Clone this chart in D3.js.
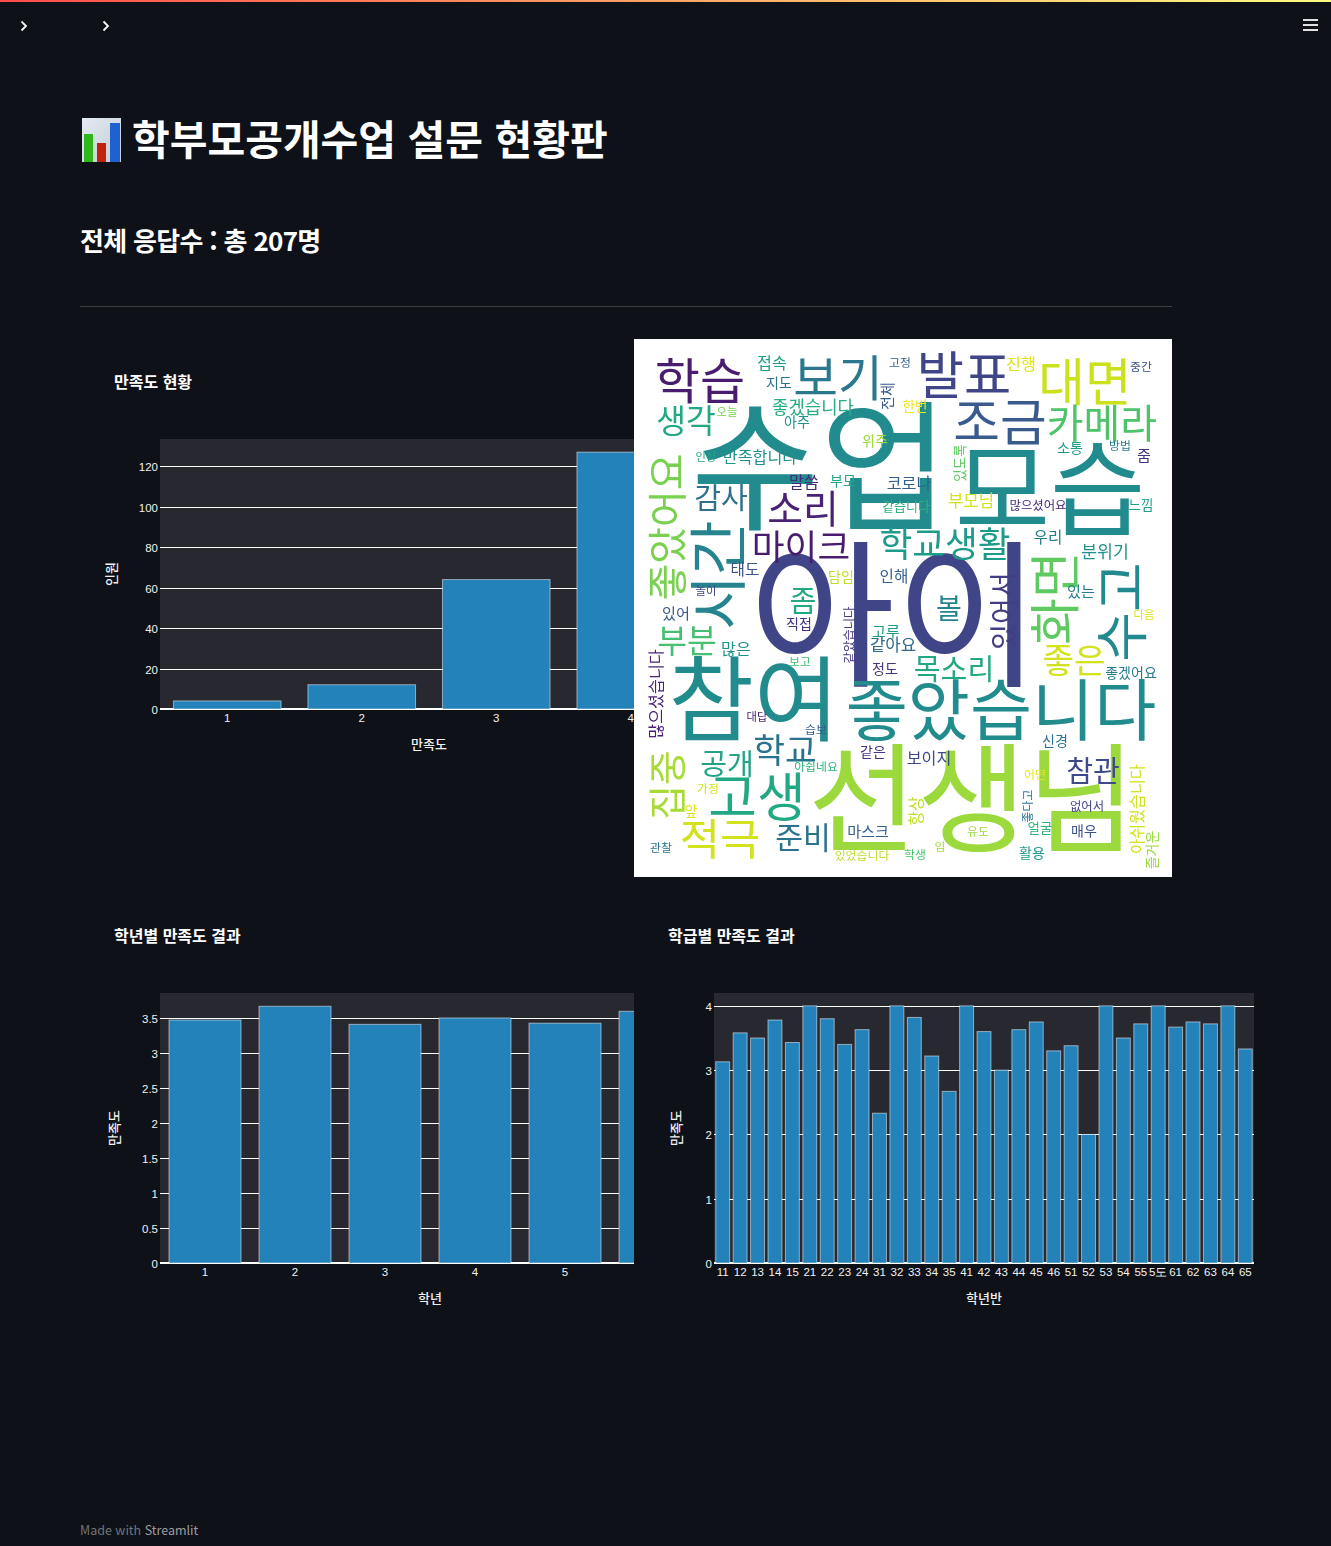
<!DOCTYPE html>
<html lang="ko">
<head>
<meta charset="utf-8">
<title>학부모공개수업 설문 현황판</title>
<script src="https://cdn.jsdelivr.net/npm/d3@7"></script>
<style>
  html, body { margin: 0; padding: 0; background: #0e1117; }
  svg { display: block; font-family: "Noto Sans CJK KR", "Noto Sans", sans-serif; }
  .tick text { fill: #f2f2f2; font-size: 11.5px; }
  .ytick line { stroke: #fff; stroke-width: 1; }
  .axis-title { fill: #f2f2f2; font-size: 13px; font-weight: 500; text-anchor: middle; }
  .chart-title { fill: #fff; font-size: 16px; font-weight: 700; }
</style>
</head>
<body>
<svg id="page" width="1331" height="1546"></svg>
<script>
// satisfaction count
var satisLevels = ["1", "2", "3", "4"];
var satisCounts = [4, 12, 64, 127];
var satisTicks = [0, 20, 40, 60, 80, 100, 120];

// satisfaction per grade
var grades = ["1", "2", "3", "4", "5", "6"];
var gradeScores = [3.476, 3.672, 3.414, 3.505, 3.43, 3.6];
var gradeTicks = [0, 0.5, 1, 1.5, 2, 2.5, 3, 3.5];

// satisfaction per class
var classes = ["11", "12", "13", "14", "15", "21", "22", "23", "24", "31", "32", "33", "34", "35", "41", "42",
               "43", "44", "45", "46", "51", "52", "53", "54", "55", "5도", "61", "62", "63", "64", "65"];
var classScores = [3.13, 3.58, 3.5, 3.78, 3.43, 4, 3.8, 3.4, 3.63, 2.33, 4, 3.82, 3.22, 2.67, 4, 3.6,
                   3, 3.63, 3.75, 3.3, 3.38, 2, 4, 3.5, 3.72, 4, 3.67, 3.75, 3.72, 4, 3.33];
var classTicks = [0, 1, 2, 3, 4];

// word cloud. x, y are in the cloud's own 538 square
var cloudWords = ["수업", "아이", "선생님", "참여", "모습", "좋았습니다", "시간", "수고", "화면", "고생", "학습",
  "보기", "발표", "대면", "조금", "카메라", "좋았어요", "적극", "집중", "소리", "마이크", "학교생활",
  "부분", "좋은", "학교", "생각", "감사", "준비", "목소리", "공개", "참관", "좀", "볼",
  "있어서", "좋겠습니다", "만족합니다", "분위기", "보이지", "접속", "진행", "말씀", "코로나", "부모님", "많은",
  "같아요", "많으셨습니다", "아쉬웠습니다", "태도", "인해", "우리", "항상", "전체", "있어", "고루", "있는",
  "마스크", "줌", "지도", "아주", "위주", "부모", "담임", "직접", "정도", "좋겠어요", "같은",
  "신경", "앞", "소통", "매우", "활용", "즐거운", "한번", "얼굴", "느낌", "있도록", "같습니다",
  "없어서", "같았습니다", "많으셨어요", "고정", "중간", "방법", "보고", "습보", "아쉽네요", "가정", "관찰",
  "있었습니다", "어떤", "좋다고", "유도", "임", "학생", "오늘", "인상", "놀이", "대답", "다음"];
var cloudX = [186, 261, 338, 120, 416, 367, 85, 489, 422, 123, 66,
  204, 330, 451, 366, 468, 34, 86, 33, 169, 167, 311,
  53, 440, 151, 52, 87, 169, 320, 93, 459, 169, 315,
  370, 179, 126, 471, 295, 138, 387, 170, 275, 337, 102,
  259, 22, 503, 111, 260, 414, 282, 254, 42, 252, 447,
  234, 510, 145, 163, 241, 209, 207, 165, 251, 497, 239,
  421, 57, 436, 450, 398, 518, 281, 406, 507, 326, 272,
  453, 216, 404, 266, 507, 486, 166, 182, 182, 74, 27,
  228, 401, 394, 344, 306, 281, 93, 72, 72, 123, 510];
var cloudY = [129, 278, 461, 362, 152, 372, 236, 273, 259, 459, 42,
  39, 37, 44, 84, 85, 188, 500, 446, 170, 208, 205,
  302, 322, 412, 82, 159, 499, 330, 425, 432, 262, 270,
  272, 69, 118, 213, 419, 24, 25, 143, 144, 162, 310,
  306, 355, 470, 230, 237, 198, 472, 57, 275, 293, 253,
  493, 117, 44, 83, 102, 142, 238, 285, 330, 334, 413,
  402, 472, 109, 492, 514, 511, 67, 489, 166, 124, 167,
  468, 296, 167, 24, 28, 107, 323, 391, 428, 450, 509,
  517, 436, 467, 493, 508, 516, 73, 118, 252, 378, 276];
var cloudFreq = [130, 147, 110, 86, 96, 62.5, 55, 50, 47, 49, 45.5,
  45, 47.5, 47, 47, 37, 37, 40.5, 35, 36, 33, 33,
  30, 32, 32, 30, 27, 28, 27, 27, 27, 27, 26,
  26, 16.5, 15, 16, 15, 15, 15, 15, 15, 15.5, 15,
  15.5, 15, 15, 14.5, 14.5, 14.5, 14.5, 14, 14, 14, 14,
  14, 14, 13, 13, 13, 13, 13, 13, 13, 13, 13,
  13, 13, 13, 13, 13, 13, 12.5, 12.5, 12.5, 12.5, 12,
  11.5, 11.5, 11.5, 11, 11, 11, 11, 11, 11, 11, 11,
  11, 11, 11, 11, 11, 11, 10.5, 10.5, 10.5, 10.5, 10.5];
var cloudTone = [.48, .2, .85, .48, .48, .48, .45, .47, .75, .6, .08,
  .4, .2, .92, .28, .72, .8, .93, .87, .1, .08, .55,
  .7, .93, .38, .6, .36, .38, .6, .58, .22, .6, .45,
  .18, .62, .5, .5, .22, .55, .95, .12, .3, .93, .5,
  .33, .1, .93, .25, .3, .42, .9, .28, .28, .55, .42,
  .3, .15, .38, .5, .85, .6, .9, .15, .15, .42, .15,
  .38, .95, .55, .25, .55, .85, .97, .65, .55, .75, .65,
  .2, .15, .12, .3, .25, .42, .7, .3, .65, .93, .38,
  .9, .97, .38, .85, .87, .7, .8, .6, .2, .1, .95];
var cloudVertical = ["시간", "수고", "화면", "좋았어요", "집중", "있어서", "많으셨습니다", "아쉬웠습니다",
  "항상", "전체", "즐거운", "있도록", "같았습니다", "좋다고"];

var svg = d3.select("#page");

// page furniture
var defs = svg.append("defs");
var topGrad = defs.append("linearGradient").attr("id", "topbar");
topGrad.append("stop").attr("offset", "0%").attr("stop-color", "#ff4b4b");
topGrad.append("stop").attr("offset", "100%").attr("stop-color", "#fffd80");
svg.append("rect").attr("width", 1331).attr("height", 2).attr("fill", "url(#topbar)");

[24, 106].forEach(function (x) {
  svg.append("path")
    .attr("d", "M" + (x - 2.5) + " 21.5 L" + (x + 2) + " 26 L" + (x - 2.5) + " 30.5")
    .attr("fill", "none").attr("stroke", "#fafafa").attr("stroke-width", 1.8);
});
[20, 25, 30].forEach(function (y) {
  svg.append("line").attr("x1", 1303).attr("x2", 1318).attr("y1", y).attr("y2", y)
    .attr("stroke", "#fafafa").attr("stroke-width", 1.8);
});

// bar chart emoji
var iconGrad = defs.append("linearGradient").attr("id", "iconbg")
  .attr("x1", 0).attr("y1", 0).attr("x2", 1).attr("y2", 1);
iconGrad.append("stop").attr("offset", "0%").attr("stop-color", "#e3eaf2");
iconGrad.append("stop").attr("offset", "100%").attr("stop-color", "#c3ccd6");
var icon = svg.append("g");
icon.append("rect").attr("x", 82).attr("y", 118).attr("width", 39).attr("height", 44).attr("fill", "url(#iconbg)");
icon.append("rect").attr("x", 84).attr("y", 134).attr("width", 9).attr("height", 28).attr("fill", "#2fb81a");
icon.append("rect").attr("x", 97).attr("y", 143).attr("width", 9).attr("height", 19).attr("fill", "#c0220f");
icon.append("rect").attr("x", 110).attr("y", 123).attr("width", 10).attr("height", 39).attr("fill", "#1d62d0");

svg.append("text").attr("x", 132).attr("y", 155).attr("fill", "#fff")
  .attr("font-size", 41).attr("font-weight", 700).text("학부모공개수업 설문 현황판");
svg.append("text").attr("x", 80).attr("y", 251).attr("fill", "#fff")
  .attr("font-size", 26).attr("font-weight", 700).attr("letter-spacing", "-0.7px").text("전체 응답수 : 총 207명");
svg.append("line").attr("x1", 80).attr("x2", 1172).attr("y1", 306.5).attr("y2", 306.5)
  .attr("stroke", "#fafafa").attr("stroke-opacity", 0.2);
svg.append("text").attr("x", 80).attr("y", 1535).attr("font-size", 12.5).attr("fill", "#71747a")
  .text("Made with ").append("tspan").attr("fill", "#9a9da2").text("Streamlit");

function barChart(opt) {
  var g = svg.append("g").attr("transform", "translate(" + opt.left + "," + opt.top + ")");
  var clipId = "clip" + opt.left + "-" + opt.top;
  defs.append("clipPath").attr("id", clipId).append("rect")
    .attr("x", -100).attr("y", -100).attr("width", opt.clipWidth + 100).attr("height", opt.height + 200);

  svg.append("text").attr("class", "chart-title")
    .attr("x", opt.left - 46).attr("y", opt.top - 51).text(opt.title);

  var x = d3.scaleBand().domain(opt.cats).range([0, opt.width]).padding(0.2).paddingOuter(0.1);
  var y = d3.scaleLinear().domain([0, opt.yMax]).range([opt.height, 0]);
  // keep the white grid lines on whole pixels
  function snap(a) {
    a.selectAll(".tick").attr("transform", function (d) { return "translate(0," + (Math.round(y(d)) + 0.5) + ")"; });
    a.select(".domain").remove();
  }

  var inner = g.append("g").attr("clip-path", "url(#" + clipId + ")");
  inner.append("rect").attr("width", opt.width).attr("height", opt.height).attr("fill", "#282830");

  inner.append("g").attr("class", "ytick")
    .call(d3.axisLeft(y).tickValues(opt.ticks).tickSize(-opt.width).tickFormat(""))
    .call(snap);
  inner.append("line").attr("x2", opt.width).attr("y1", y(0)).attr("y2", y(0))
    .attr("stroke", "#fff").attr("stroke-width", 2);

  inner.selectAll("rect.bar").data(opt.values).join("rect")
    .attr("class", "bar")
    .attr("x", function (d, i) { return x(opt.cats[i]); })
    .attr("y", function (d) { return y(d); })
    .attr("width", x.bandwidth())
    .attr("height", function (d) { return y(0) - y(d); })
    .attr("fill", "#2482ba")
    .attr("stroke", "#fff").attr("stroke-opacity", 0.5).attr("stroke-width", 1);

  inner.append("g").attr("transform", "translate(0," + opt.height + ")")
    .call(d3.axisBottom(x).tickSize(0).tickPadding(5))
    .call(function (a) { a.select(".domain").remove(); });

  g.append("g")
    .call(d3.axisLeft(y).tickValues(opt.ticks).tickSize(0).tickPadding(2).tickFormat(d3.format("~g")))
    .call(snap)
    .selectAll("text").attr("dy", "0.38em");

  g.append("text").attr("class", "axis-title")
    .attr("x", opt.width / 2).attr("y", opt.height + 40).text(opt.xTitle);
  g.append("text").attr("class", "axis-title")
    .attr("transform", "translate(" + opt.yTitleX + "," + (opt.height / 2) + ") rotate(-90)").text(opt.yTitle);
}

barChart({ left: 160, top: 439, width: 538, height: 270, clipWidth: 474, yMax: 133.5, yTitleX: -44,
  cats: satisLevels, values: satisCounts, ticks: satisTicks,
  title: "만족도 현황", xTitle: "만족도", yTitle: "인원" });
barChart({ left: 160, top: 993, width: 540, height: 270, clipWidth: 474, yMax: 3.862, yTitleX: -41,
  cats: grades, values: gradeScores, ticks: gradeTicks,
  title: "학년별 만족도 결과", xTitle: "학년", yTitle: "만족도" });
barChart({ left: 714, top: 993, width: 540, height: 270, clipWidth: 540, yMax: 4.2, yTitleX: -33,
  cats: classes, values: classScores, ticks: classTicks,
  title: "학급별 만족도 결과", xTitle: "학년반", yTitle: "만족도" });

// word cloud sits on top of the first chart's right edge
var cloudBox = 538, cloudFontScale = 1.08;
var cloudPos = d3.scaleLinear().domain([0, 538]).range([0, cloudBox]);
defs.append("filter").attr("id", "soft").append("feGaussianBlur").attr("stdDeviation", 0.35);
var cloudG = svg.append("g").attr("transform", "translate(634,339)");
cloudG.append("rect").attr("width", cloudBox).attr("height", cloudBox).attr("fill", "#fff");
cloudG.append("g").attr("filter", "url(#soft)").selectAll("text").data(cloudWords).join("text")
  .attr("text-anchor", "middle")
  .attr("dy", "0.36em")
  .attr("transform", function (d, i) {
    var r = cloudVertical.indexOf(d) >= 0 ? " rotate(-90)" : "";
    return "translate(" + cloudPos(cloudX[i]) + "," + cloudPos(cloudY[i]) + ")" + r;
  })
  .attr("font-size", function (d, i) { return cloudFreq[i] * cloudFontScale; })
  .attr("fill", function (d, i) { return d3.interpolateViridis(cloudTone[i]); })
  .text(function (d) { return d; });
</script>
</body>
</html>
